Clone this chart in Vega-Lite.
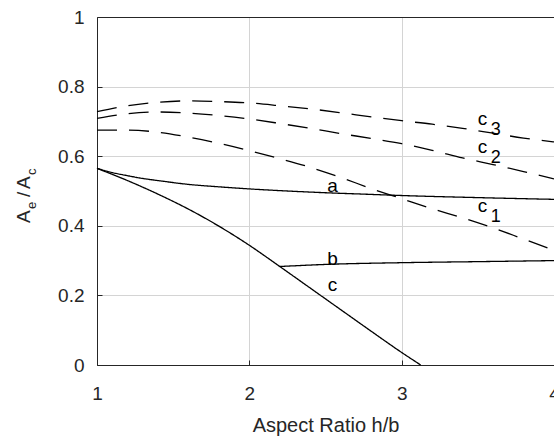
{
  "$schema": "https://vega.github.io/schema/vega-lite/v6.json",
  "width": 457,
  "height": 348,
  "autosize": {"type": "none"},
  "padding": {"left": 97, "top": 17, "right": 0, "bottom": 71},
  "config": {"view": {"stroke": null}, "font": "Liberation Sans"},
  "datasets": {
    "curves": [
      {"curve": "a", "kind": "solid", "x": 1.0, "y": 0.565},
      {"curve": "a", "kind": "solid", "x": 1.1, "y": 0.553},
      {"curve": "a", "kind": "solid", "x": 1.2, "y": 0.544},
      {"curve": "a", "kind": "solid", "x": 1.3, "y": 0.536},
      {"curve": "a", "kind": "solid", "x": 1.4, "y": 0.530},
      {"curve": "a", "kind": "solid", "x": 1.6, "y": 0.519},
      {"curve": "a", "kind": "solid", "x": 1.8, "y": 0.512},
      {"curve": "a", "kind": "solid", "x": 2.0, "y": 0.506},
      {"curve": "a", "kind": "solid", "x": 2.25, "y": 0.500},
      {"curve": "a", "kind": "solid", "x": 2.5, "y": 0.495},
      {"curve": "a", "kind": "solid", "x": 2.75, "y": 0.491},
      {"curve": "a", "kind": "solid", "x": 3.0, "y": 0.487},
      {"curve": "a", "kind": "solid", "x": 3.5, "y": 0.481},
      {"curve": "a", "kind": "solid", "x": 4.0, "y": 0.476},
      {"curve": "b", "kind": "solid", "x": 2.2, "y": 0.283},
      {"curve": "b", "kind": "solid", "x": 2.5, "y": 0.289},
      {"curve": "b", "kind": "solid", "x": 3.0, "y": 0.294},
      {"curve": "b", "kind": "solid", "x": 3.5, "y": 0.297},
      {"curve": "b", "kind": "solid", "x": 4.0, "y": 0.300},
      {"curve": "c", "kind": "solid", "x": 1.0, "y": 0.565},
      {"curve": "c", "kind": "solid", "x": 1.2, "y": 0.530},
      {"curve": "c", "kind": "solid", "x": 1.4, "y": 0.491},
      {"curve": "c", "kind": "solid", "x": 1.6, "y": 0.448},
      {"curve": "c", "kind": "solid", "x": 1.8, "y": 0.399},
      {"curve": "c", "kind": "solid", "x": 2.0, "y": 0.344},
      {"curve": "c", "kind": "solid", "x": 2.2, "y": 0.283},
      {"curve": "c", "kind": "solid", "x": 2.4, "y": 0.221},
      {"curve": "c", "kind": "solid", "x": 2.6, "y": 0.159},
      {"curve": "c", "kind": "solid", "x": 2.8, "y": 0.097},
      {"curve": "c", "kind": "solid", "x": 3.0, "y": 0.036},
      {"curve": "c", "kind": "solid", "x": 3.125, "y": 0.0},
      {"curve": "c1", "kind": "dashed", "x": 1.0, "y": 0.675},
      {"curve": "c1", "kind": "dashed", "x": 1.2, "y": 0.675},
      {"curve": "c1", "kind": "dashed", "x": 1.4, "y": 0.669},
      {"curve": "c1", "kind": "dashed", "x": 1.6, "y": 0.655},
      {"curve": "c1", "kind": "dashed", "x": 1.8, "y": 0.637},
      {"curve": "c1", "kind": "dashed", "x": 2.0, "y": 0.616},
      {"curve": "c1", "kind": "dashed", "x": 2.2, "y": 0.593},
      {"curve": "c1", "kind": "dashed", "x": 2.4, "y": 0.568},
      {"curve": "c1", "kind": "dashed", "x": 2.6, "y": 0.539},
      {"curve": "c1", "kind": "dashed", "x": 2.8, "y": 0.507},
      {"curve": "c1", "kind": "dashed", "x": 3.0, "y": 0.478},
      {"curve": "c1", "kind": "dashed", "x": 3.2, "y": 0.449},
      {"curve": "c1", "kind": "dashed", "x": 3.4, "y": 0.423},
      {"curve": "c1", "kind": "dashed", "x": 3.6, "y": 0.394},
      {"curve": "c1", "kind": "dashed", "x": 3.8, "y": 0.362},
      {"curve": "c1", "kind": "dashed", "x": 4.0, "y": 0.330},
      {"curve": "c2", "kind": "dashed", "x": 1.0, "y": 0.709},
      {"curve": "c2", "kind": "dashed", "x": 1.2, "y": 0.722},
      {"curve": "c2", "kind": "dashed", "x": 1.4, "y": 0.727},
      {"curve": "c2", "kind": "dashed", "x": 1.6, "y": 0.724},
      {"curve": "c2", "kind": "dashed", "x": 1.8, "y": 0.717},
      {"curve": "c2", "kind": "dashed", "x": 2.0, "y": 0.707},
      {"curve": "c2", "kind": "dashed", "x": 2.2, "y": 0.694},
      {"curve": "c2", "kind": "dashed", "x": 2.4, "y": 0.680},
      {"curve": "c2", "kind": "dashed", "x": 2.6, "y": 0.665},
      {"curve": "c2", "kind": "dashed", "x": 2.8, "y": 0.651},
      {"curve": "c2", "kind": "dashed", "x": 3.0, "y": 0.636},
      {"curve": "c2", "kind": "dashed", "x": 3.2, "y": 0.617},
      {"curve": "c2", "kind": "dashed", "x": 3.4, "y": 0.595},
      {"curve": "c2", "kind": "dashed", "x": 3.6, "y": 0.576},
      {"curve": "c2", "kind": "dashed", "x": 3.8, "y": 0.556},
      {"curve": "c2", "kind": "dashed", "x": 4.0, "y": 0.535},
      {"curve": "c3", "kind": "dashed", "x": 1.0, "y": 0.728},
      {"curve": "c3", "kind": "dashed", "x": 1.2, "y": 0.745},
      {"curve": "c3", "kind": "dashed", "x": 1.4, "y": 0.755},
      {"curve": "c3", "kind": "dashed", "x": 1.6, "y": 0.759},
      {"curve": "c3", "kind": "dashed", "x": 1.8, "y": 0.757},
      {"curve": "c3", "kind": "dashed", "x": 2.0, "y": 0.753},
      {"curve": "c3", "kind": "dashed", "x": 2.2, "y": 0.745},
      {"curve": "c3", "kind": "dashed", "x": 2.4, "y": 0.736},
      {"curve": "c3", "kind": "dashed", "x": 2.6, "y": 0.725},
      {"curve": "c3", "kind": "dashed", "x": 2.8, "y": 0.713},
      {"curve": "c3", "kind": "dashed", "x": 3.0, "y": 0.702},
      {"curve": "c3", "kind": "dashed", "x": 3.2, "y": 0.692},
      {"curve": "c3", "kind": "dashed", "x": 3.4, "y": 0.680},
      {"curve": "c3", "kind": "dashed", "x": 3.6, "y": 0.666},
      {"curve": "c3", "kind": "dashed", "x": 3.8, "y": 0.652},
      {"curve": "c3", "kind": "dashed", "x": 4.0, "y": 0.641}
    ],
    "letters": [
      {"label": "a", "x": 2.546, "y": 0.497},
      {"label": "b", "x": 2.546, "y": 0.287},
      {"label": "c", "x": 2.546, "y": 0.2135}
    ],
    "clabels": [
      {"label": "c", "sub": "3", "x": 3.5, "y": 0.690},
      {"label": "c", "sub": "2", "x": 3.5, "y": 0.609},
      {"label": "c", "sub": "1", "x": 3.5, "y": 0.440}
    ]
  },
  "layer": [
    {
      "data": {"name": "curves"},
      "mark": {"type": "line", "color": "black", "strokeWidth": 1.3, "interpolate": "monotone"},
      "encoding": {
        "x": {
          "field": "x", "type": "quantitative",
          "scale": {"domain": [1, 4], "nice": false, "zero": false},
          "axis": {
            "orient": "bottom", "values": [1, 2, 3, 4], "format": "d",
            "tickSize": -5, "labelPadding": 24, "labelFlush": false, "labelOverlap": false,
            "grid": true,
            "gridColor": {"condition": {"test": "datum.value >= 4", "value": "white"}, "value": "#d4d4d4"},
            "gridWidth": 1, "gridOpacity": 1,
            "domain": true, "domainColor": "#262626", "tickColor": "#262626",
            "labelColor": "#262626", "labelFontSize": 19, "labelFont": "Liberation Sans",
            "title": "Aspect Ratio h/b", "titleFontSize": 20, "titleFontWeight": "normal",
            "titleFont": "Liberation Sans", "titleColor": "#262626",
            "titleBaseline": "alphabetic", "titleY": 66
          }
        },
        "y": {
          "field": "y", "type": "quantitative",
          "scale": {"domain": [0, 1], "nice": false},
          "axis": {
            "orient": "left", "values": [0, 0.2, 0.4, 0.6, 0.8, 1], "format": "~g",
            "tickSize": -5, "labelPadding": 18, "labelFlush": false, "labelOverlap": false,
            "grid": true,
            "gridColor": {"condition": {"test": "datum.value >= 1", "value": "#262626"}, "value": "#d4d4d4"},
            "gridWidth": 1, "gridOpacity": 1,
            "domain": true, "domainColor": "#262626", "tickColor": "#262626",
            "labelColor": "#262626", "labelFontSize": 19, "labelFont": "Liberation Sans",
            "title": null
          }
        },
        "detail": {"field": "curve"},
        "strokeDash": {
          "field": "kind", "type": "nominal",
          "scale": {"domain": ["solid", "dashed"], "range": [[1, 0], [20, 12]]},
          "legend": null
        }
      }
    },
    {
      "data": {"name": "letters"},
      "mark": {"type": "text", "align": "center", "baseline": "alphabetic", "fontSize": 19, "font": "Liberation Sans", "color": "black"},
      "encoding": {
        "x": {"field": "x", "type": "quantitative", "axis": null},
        "y": {"field": "y", "type": "quantitative", "axis": null},
        "text": {"field": "label"}
      }
    },
    {
      "data": {"name": "clabels"},
      "mark": {"type": "text", "align": "left", "baseline": "alphabetic", "fontSize": 19, "font": "Liberation Sans", "color": "black"},
      "encoding": {
        "x": {"field": "x", "type": "quantitative", "axis": null},
        "y": {"field": "y", "type": "quantitative", "axis": null},
        "text": {"field": "label"}
      }
    },
    {
      "data": {"name": "clabels"},
      "mark": {"type": "text", "align": "left", "baseline": "alphabetic", "fontSize": 18, "font": "Liberation Sans", "color": "black", "dx": 13, "dy": 10},
      "encoding": {
        "x": {"field": "x", "type": "quantitative", "axis": null},
        "y": {"field": "y", "type": "quantitative", "axis": null},
        "text": {"field": "sub"}
      }
    },
    {
      "data": {"values": [{}]},
      "mark": {"type": "text", "text": "A", "angle": 270, "align": "left", "baseline": "alphabetic", "fontSize": 19, "font": "Liberation Sans", "color": "#262626", "dx": 0, "dy": 0},
      "encoding": {
        "x": {"datum": 0.56, "type": "quantitative", "axis": null},
        "y": {"datum": 0.408, "type": "quantitative", "axis": null}
      }
    },
    {
      "data": {"values": [{}]},
      "mark": {"type": "text", "text": "e", "angle": 270, "align": "left", "baseline": "alphabetic", "fontSize": 13, "font": "Liberation Sans", "color": "#262626", "dx": 14, "dy": 6},
      "encoding": {
        "x": {"datum": 0.56, "type": "quantitative", "axis": null},
        "y": {"datum": 0.408, "type": "quantitative", "axis": null}
      }
    },
    {
      "data": {"values": [{}]},
      "mark": {"type": "text", "text": "/", "angle": 270, "align": "left", "baseline": "alphabetic", "fontSize": 19, "font": "Liberation Sans", "color": "#262626", "dx": 26, "dy": 0},
      "encoding": {
        "x": {"datum": 0.56, "type": "quantitative", "axis": null},
        "y": {"datum": 0.408, "type": "quantitative", "axis": null}
      }
    },
    {
      "data": {"values": [{}]},
      "mark": {"type": "text", "text": "A", "angle": 270, "align": "left", "baseline": "alphabetic", "fontSize": 19, "font": "Liberation Sans", "color": "#262626", "dx": 34, "dy": 0},
      "encoding": {
        "x": {"datum": 0.56, "type": "quantitative", "axis": null},
        "y": {"datum": 0.408, "type": "quantitative", "axis": null}
      }
    },
    {
      "data": {"values": [{}]},
      "mark": {"type": "text", "text": "c", "angle": 270, "align": "left", "baseline": "alphabetic", "fontSize": 13, "font": "Liberation Sans", "color": "#262626", "dx": 48, "dy": 6},
      "encoding": {
        "x": {"datum": 0.56, "type": "quantitative", "axis": null},
        "y": {"datum": 0.408, "type": "quantitative", "axis": null}
      }
    }
  ],
  "resolve": {"axis": {"x": "independent", "y": "independent"}}
}
